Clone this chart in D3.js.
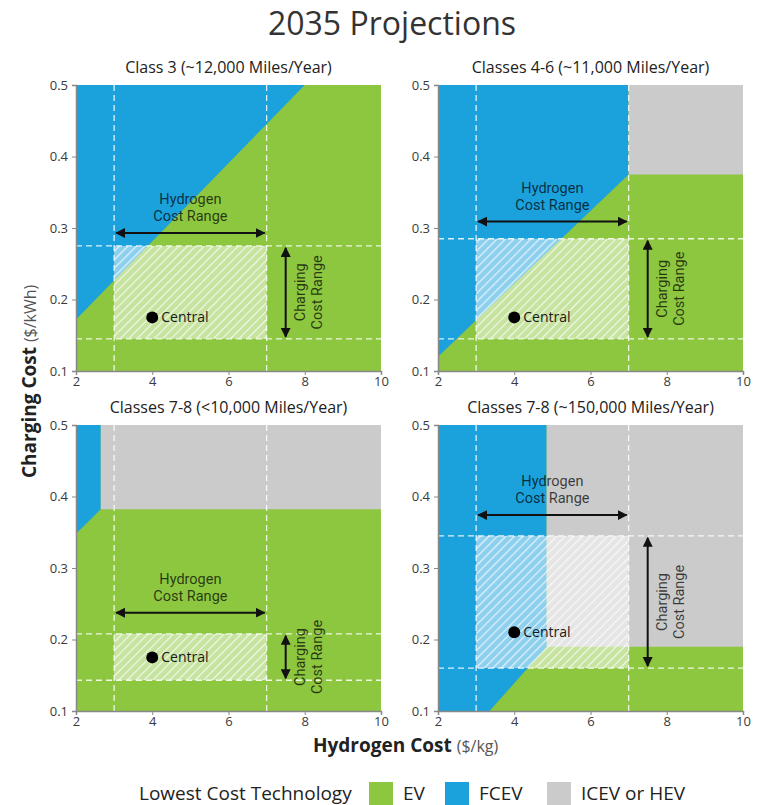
<!DOCTYPE html>
<html>
<head>
<meta charset="utf-8">
<script src="https://cdn.jsdelivr.net/npm/d3@7"></script>
<style>
  html, body { margin: 0; padding: 0; background: #fff; }
  svg { display: block; font-family: "Open Sans", "Noto Sans", sans-serif; }
</style>
</head>
<body>
<svg id="chart" width="759" height="805"></svg>
<script>
// ---- data ----
const panelTitles = [
  "Class 3 (~12,000 Miles/Year)",
  "Classes 4-6 (~11,000 Miles/Year)",
  "Classes 7-8 (<10,000 Miles/Year)",
  "Classes 7-8 (~150,000 Miles/Year)"
];
const hydrogenTicks = [2, 4, 6, 8, 10];
const chargingTicks = [0.1, 0.2, 0.3, 0.4, 0.5];
const hydrogenDomain = [2, 10];
const chargingDomain = [0.1, 0.5];

// region boundaries ($/kg, $/kWh); EV fills everything not covered
const fcevRegions = [
  [[2, 0.172], [8, 0.5], [2, 0.5]],
  [[2, 0.12], [7, 0.375], [7, 0.5], [2, 0.5]],
  [[2, 0.348], [2.65, 0.382], [2.65, 0.5], [2, 0.5]],
  [[2, 0.1], [3.35, 0.1], [4.85, 0.19], [4.85, 0.5], [2, 0.5]]
];
const iceRegions = [
  [],
  [[7, 0.375], [10, 0.375], [10, 0.5], [7, 0.5]],
  [[2.65, 0.382], [10, 0.382], [10, 0.5], [2.65, 0.5]],
  [[4.85, 0.19], [10, 0.19], [10, 0.5], [4.85, 0.5]]
];
const hydrogenRange = [[3, 7], [3, 7], [3, 7], [3, 7]];
const chargingRange = [[0.145, 0.275], [0.145, 0.285], [0.143, 0.208], [0.16, 0.345]];
const centralPoint = [[4, 0.175], [4, 0.175], [4, 0.175], [4, 0.21]];
const hydrogenArrowAt = [0.293, 0.309, 0.2375, 0.374];
const chargingArrowAt = [7.5, 7.5, 7.5, 7.5];

const legendItems = ["EV", "FCEV", "ICEV or HEV"];
const colors = { EV: "#8dc63f", FCEV: "#1ba1dc", ICE: "#cbcbcb" };

// ---- layout ----
const svg = d3.select("#chart");
const plotW = 305, plotH = 286;
const origins = [[76, 85], [438, 85], [76, 425], [438, 425]];
const labelFont = "Roboto, 'Open Sans', sans-serif";

const defs = svg.append("defs");
const pat = defs.append("pattern")
  .attr("id", "hatch").attr("patternUnits", "userSpaceOnUse")
  .attr("width", 6).attr("height", 6)
  .attr("patternTransform", "rotate(45)");
pat.append("rect").attr("width", 6).attr("height", 6).attr("fill", "#fff").attr("fill-opacity", 0.5);
pat.append("line").attr("x1", 0).attr("y1", 0).attr("x2", 0).attr("y2", 6)
  .attr("stroke", "#fff").attr("stroke-width", 2.4).attr("stroke-opacity", 0.75);

defs.append("marker").attr("id", "arrowhead")
  .attr("viewBox", "0 0 10 10").attr("refX", 9).attr("refY", 5)
  .attr("markerWidth", 5).attr("markerHeight", 5)
  .attr("markerUnits", "strokeWidth")
  .attr("orient", "auto-start-reverse")
  .append("path").attr("d", "M0,0 L10,5 L0,10 Z").attr("fill", "#111");

// title
svg.append("text").attr("x", 392).attr("y", 35).attr("text-anchor", "middle")
  .attr("font-size", 32).attr("fill", "#333").text("2035 Projections");

panelTitles.forEach((title, i) => {
  const [ox, oy] = origins[i];
  const x = d3.scaleLinear().domain(hydrogenDomain).range([0, plotW]);
  const y = d3.scaleLinear().domain(chargingDomain).range([plotH, 0]);
  const g = svg.append("g").attr("transform", `translate(${ox},${oy})`);
  const clipId = "clip" + i;
  defs.append("clipPath").attr("id", clipId)
    .append("rect").attr("width", plotW).attr("height", plotH);
  const area = g.append("g").attr("clip-path", `url(#${clipId})`);

  // EV background, then FCEV and ICEV/HEV regions
  area.append("rect").attr("width", plotW).attr("height", plotH).attr("fill", colors.EV);
  const line = d3.line().x(d => x(d[0])).y(d => y(d[1]));
  if (fcevRegions[i].length)
    area.append("path").attr("d", line(fcevRegions[i]) + "Z").attr("fill", colors.FCEV);
  if (iceRegions[i].length)
    area.append("path").attr("d", line(iceRegions[i]) + "Z").attr("fill", colors.ICE);

  // hatched uncertainty box
  const [h0, h1] = hydrogenRange[i];
  const [c0, c1] = chargingRange[i];
  area.append("rect")
    .attr("x", x(h0)).attr("y", y(c1))
    .attr("width", x(h1) - x(h0)).attr("height", y(c0) - y(c1))
    .attr("fill", "url(#hatch)");

  // dashed guide lines
  const dash = area.append("g").attr("stroke", "#fff").attr("stroke-width", 1.3)
    .attr("stroke-dasharray", "6,4").attr("stroke-opacity", 0.85);
  [h0, h1].forEach(v => dash.append("line").attr("x1", x(v)).attr("x2", x(v)).attr("y1", 0).attr("y2", plotH));
  [c0, c1].forEach(v => dash.append("line").attr("y1", y(v)).attr("y2", y(v)).attr("x1", 0).attr("x2", plotW));

  // hydrogen cost range arrow + label
  const ay = y(hydrogenArrowAt[i]);
  g.append("line").attr("x1", x(h0) + 2).attr("x2", x(h1) - 2).attr("y1", ay).attr("y2", ay)
    .attr("stroke", "#111").attr("stroke-width", 2)
    .attr("marker-start", "url(#arrowhead)").attr("marker-end", "url(#arrowhead)");
  const hx = x((h0 + h1) / 2);
  const hl = g.append("g").attr("font-family", labelFont).attr("font-size", 14.5)
    .attr("text-anchor", "middle").attr("fill", "#000").attr("fill-opacity", 0.72);
  hl.append("text").attr("x", hx).attr("y", ay - 29).text("Hydrogen");
  hl.append("text").attr("x", hx).attr("y", ay - 12).text("Cost Range");

  // charging cost range arrow + label
  const ax = x(chargingArrowAt[i]);
  g.append("line").attr("x1", ax).attr("x2", ax).attr("y1", y(c0) - 2).attr("y2", y(c1) + 2)
    .attr("stroke", "#111").attr("stroke-width", 2)
    .attr("marker-start", "url(#arrowhead)").attr("marker-end", "url(#arrowhead)");
  const cy = y((c0 + c1) / 2);
  const cl = g.append("g").attr("font-family", labelFont).attr("font-size", 14.5)
    .attr("text-anchor", "middle").attr("fill", "#000").attr("fill-opacity", 0.72)
    .attr("transform", `translate(${ax},${cy}) rotate(-90)`);
  cl.append("text").attr("x", 0).attr("y", 19).text("Charging");
  cl.append("text").attr("x", 0).attr("y", 36).text("Cost Range");

  // central estimate
  const [px, py] = centralPoint[i];
  g.append("circle").attr("cx", x(px)).attr("cy", y(py)).attr("r", 6).attr("fill", "#000");
  g.append("text").attr("x", x(px) + 9).attr("y", y(py)).attr("dy", "0.35em")
    .attr("font-size", 14).attr("fill", "#1a1a1a").text("Central");

  // axes
  const xa = g.append("g").attr("transform", `translate(0,${plotH})`)
    .call(d3.axisBottom(x).tickValues(hydrogenTicks).tickSize(4).tickPadding(2).tickFormat(d3.format("d")));
  const ya = g.append("g")
    .call(d3.axisLeft(y).tickValues(chargingTicks).tickSize(4).tickPadding(4).tickFormat(d3.format(".1f")));
  [xa, ya].forEach(a => {
    a.select(".domain").attr("stroke", "#888").attr("stroke-width", 1.5);
    a.selectAll(".tick line").attr("stroke", "#888");
    a.selectAll(".tick text").attr("font-size", 13).attr("fill", "#3a3a3a")
      .attr("font-family", "'Open Sans', sans-serif");
  });

  // panel title
  g.append("text").attr("x", plotW / 2).attr("y", -12).attr("text-anchor", "middle")
    .attr("font-size", 16).attr("fill", "#222").text(title);
});

// axis titles
const yt = svg.append("text").attr("transform", "translate(36,478) rotate(-90)")
  .attr("text-anchor", "start").attr("fill", "#222");
yt.append("tspan").attr("font-weight", "bold").attr("font-size", 19).text("Charging Cost ");
yt.append("tspan").attr("font-size", 16).attr("fill", "#555").text("($/kWh)");

const xt = svg.append("text").attr("x", 313).attr("y", 752)
  .attr("text-anchor", "start").attr("fill", "#222");
xt.append("tspan").attr("font-weight", "bold").attr("font-size", 19).text("Hydrogen Cost ");
xt.append("tspan").attr("font-size", 16).attr("fill", "#555").text("($/kg)");

// legend
const lg = svg.append("g").attr("transform", "translate(0,800)");
lg.append("text").attr("x", 139).attr("y", 0).attr("font-size", 19).attr("fill", "#222")
  .text("Lowest Cost Technology");
const legendColors = [colors.EV, colors.FCEV, colors.ICE];
const legendX = [369, 445, 547];
legendItems.forEach((name, k) => {
  lg.append("rect").attr("x", legendX[k]).attr("y", -18).attr("width", 24).attr("height", 24)
    .attr("fill", legendColors[k]);
  lg.append("text").attr("x", legendX[k] + 34).attr("y", 0).attr("font-size", 19)
    .attr("fill", "#222").text(name);
});
</script>
</body>
</html>
